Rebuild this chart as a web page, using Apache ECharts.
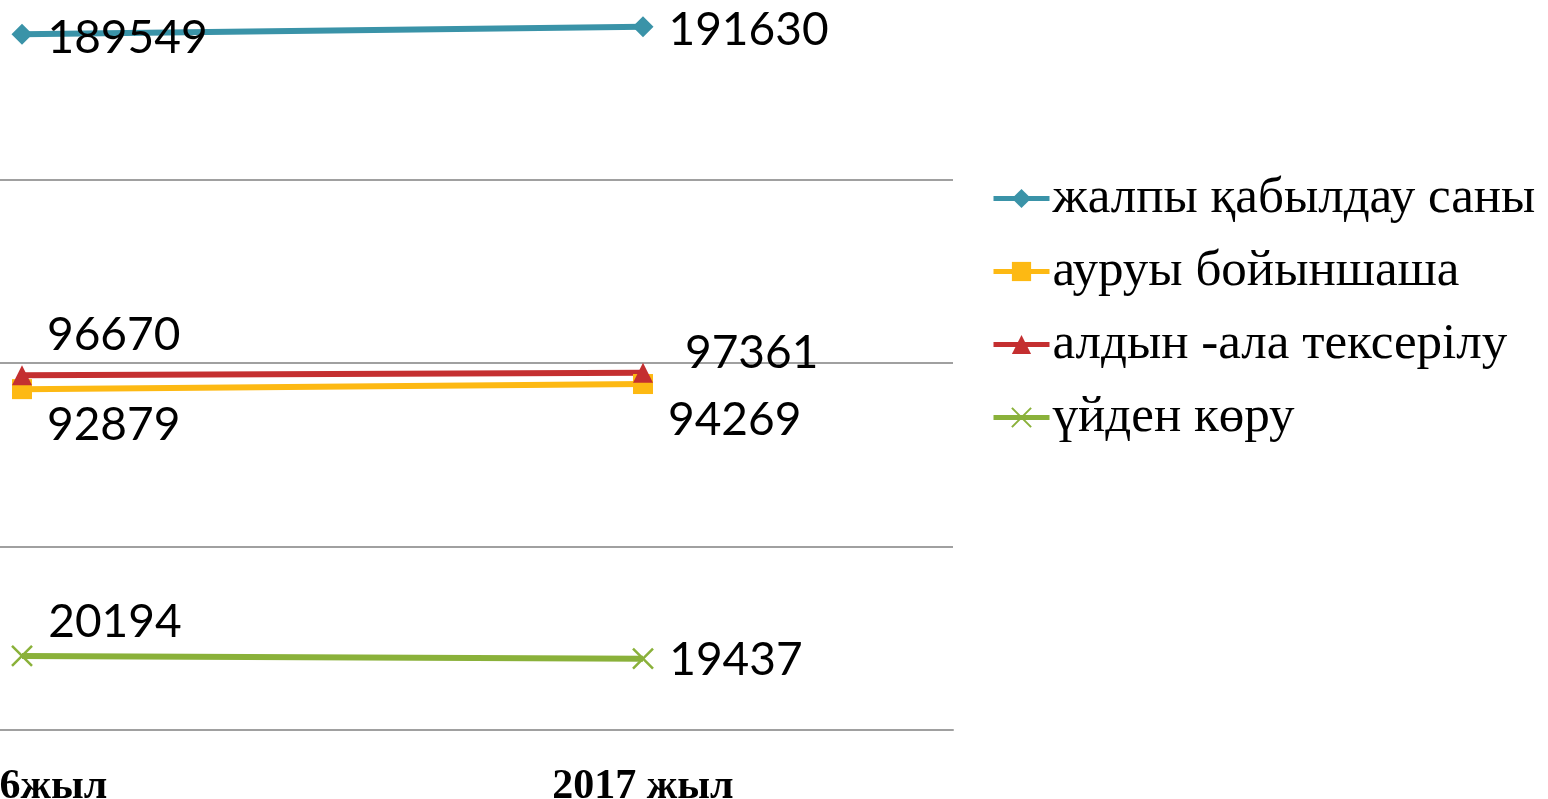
<!DOCTYPE html>
<html>
<head>
<meta charset="utf-8">
<title>chart</title>
<script src="https://cdn.jsdelivr.net/npm/echarts@6/dist/echarts.min.js"></script>
<style>
  html, body { margin: 0; padding: 0; background: #fff; }
  #chart { width: 1548px; height: 799px; }
</style>
</head>
<body>
<div id="chart"></div>
<script>
// categories and values
var years = ['2016жыл', '2017 жыл'];
var seriesNames = ['жалпы қабылдау саны', 'ауруы бойыншаша', 'алдын -ала тексерілу', 'үйден көру'];
var totalVisits = [189549, 191630];
var byDisease = [92879, 94269];
var preventive = [96670, 97361];
var homeVisits = [20194, 19437];
var yTicks = { min: 0, max: 200000, interval: 50000 };

// the original picture is cropped: first category sits 22px from the left edge
var xRange = { min: -22 / 621, max: 1 + 310 / 621 };

var labelFont = {
  fontFamily: 'Lato',
  fontSize: 46,
  color: '#000'
};

function makeSeries(name, data, color, symbol, size, offsets) {
  return {
    name: name,
    type: 'line',
    data: data.map(function (v, i) {
      return {
        value: [i, v],
        label: { offset: offsets[i] }
      };
    }),
    symbol: symbol,
    symbolSize: size,
    lineStyle: { color: color, width: 6 },
    itemStyle: { color: color },
    label: Object.assign({
      show: true,
      position: 'right',
      distance: 15,
      formatter: function (p) { return p.value[1]; }
    }, labelFont),
    animation: false
  };
}

var chart = echarts.init(document.getElementById('chart'));

var homeSeries = makeSeries(seriesNames[3], homeVisits, '#8AB13A',
  'path://M0,0L10,10M10,0L0,10', 20, [[0, -34], [0, 2]]);
homeSeries.itemStyle = { color: '#8AB13A', borderColor: '#8AB13A', borderWidth: 2.5 };

chart.setOption({
  backgroundColor: '#fff',
  grid: {
    left: 0,
    right: 595,
    top: -4,
    bottom: 69,
    containLabel: false,
    outerBoundsMode: 'none'
  },
  legend: {
    orient: 'vertical',
    left: 986,
    top: 168,
    itemWidth: 56,
    itemHeight: 24,
    itemGap: 22,
    lineStyle: { width: 5 },
    textStyle: {
      fontFamily: 'Liberation Serif',
      fontSize: 51,
      color: '#000',
      padding: [0, 0, 0, -2]
    },
    data: seriesNames
  },
  xAxis: {
    type: 'value',
    min: xRange.min,
    max: xRange.max,
    axisLine: { onZero: false, lineStyle: { color: '#A0A0A0', width: 2 } },
    axisTick: { show: false },
    splitLine: { show: false },
    axisLabel: {
      customValues: [0, 1],
      formatter: function (v) { return years[Math.round(v)]; },
      margin: 36,
      fontFamily: 'Liberation Serif',
      fontWeight: 'bold',
      fontSize: 42,
      color: '#000'
    }
  },
  yAxis: {
    type: 'value',
    min: yTicks.min,
    max: yTicks.max,
    interval: yTicks.interval,
    axisLine: { show: false },
    axisTick: { show: false },
    axisLabel: { show: false },
    splitLine: { lineStyle: { color: '#A0A0A0', width: 2 } }
  },
  series: [
    makeSeries(seriesNames[0], totalVisits, '#3A93A8', 'diamond', 21, [[0, 4], [0, 3]]),
    makeSeries(seriesNames[1], byDisease, '#FDB913', 'rect', 20, [[0, 36], [0, 36]]),
    makeSeries(seriesNames[2], preventive, '#C42F30', 'triangle', 20, [[0, -40], [17, -20]]),
    homeSeries
  ]
});
</script>
</body>
</html>
